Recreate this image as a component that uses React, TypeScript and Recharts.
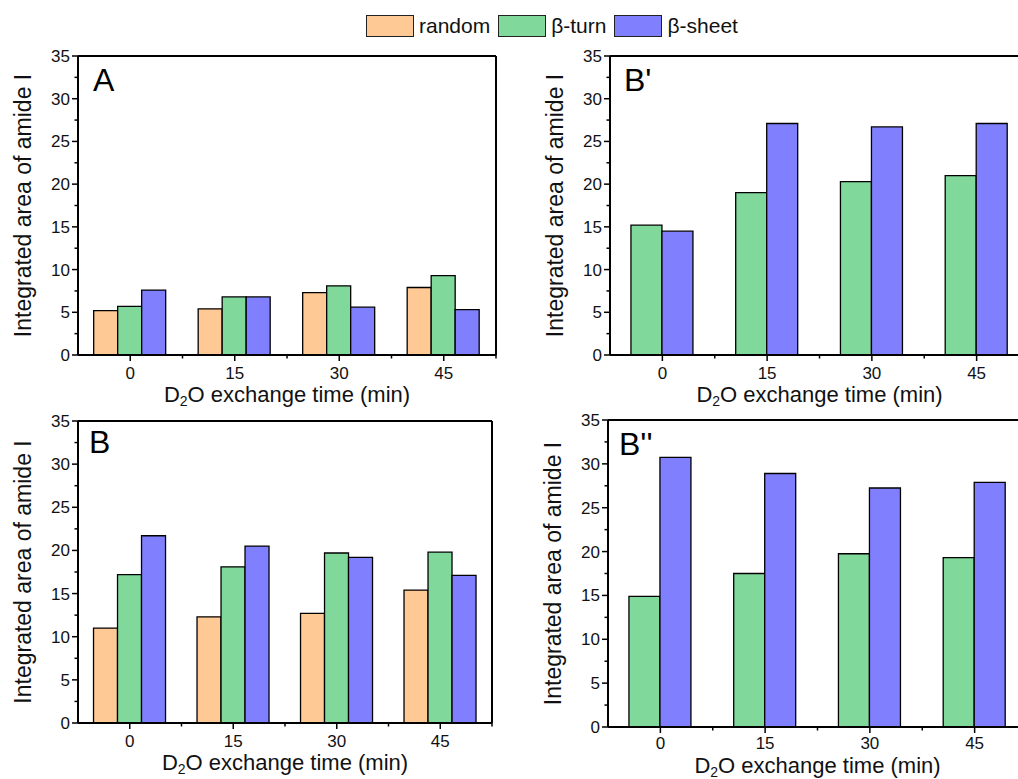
import React from "react";
import { BarChart, Bar, XAxis, YAxis } from "recharts";

const times = ["0", "15", "30", "45"];
const yTicks = [0, 2.5, 5, 7.5, 10, 12.5, 15, 17.5, 20, 22.5, 25, 27.5, 30, 32.5, 35];

// panel A
const aRandom = [5.2, 5.4, 7.3, 7.9];
const aTurn = [5.7, 6.8, 8.1, 9.3];
const aSheet = [7.6, 6.8, 5.6, 5.3];

// panel B
const bRandom = [11.0, 12.3, 12.7, 15.4];
const bTurn = [17.2, 18.1, 19.7, 19.8];
const bSheet = [21.7, 20.5, 19.2, 17.1];

// panel B'
const b1Turn = [15.2, 19.0, 20.3, 21.0];
const b1Sheet = [14.5, 27.1, 26.7, 27.1];

// panel B''
const b2Turn = [14.9, 17.5, 19.75, 19.3];
const b2Sheet = [30.75, 28.9, 27.25, 27.9];

const FONT = "'Liberation Sans', Arial, Helvetica, sans-serif";
const COLORS: Record<string, string> = {
  random: "#FFC995",
  turn: "#80D99B",
  sheet: "#8080FF",
};
const legendItems = [
  { key: "random", name: "random" },
  { key: "turn", name: "β-turn" },
  { key: "sheet", name: "β-sheet" },
];

type Row = { t: string; random?: number; turn?: number; sheet?: number };

function rows(random: number[] | null, turn: number[], sheet: number[]): Row[] {
  return times.map((t, i) => {
    const r: Row = { t, turn: turn[i], sheet: sheet[i] };
    if (random) r.random = random[i];
    return r;
  });
}

interface PanelProps {
  letter: string;
  letterDx: number;
  letterDy: number;
  left: number; // plot left edge on the page
  top: number; // plot top edge on the page
  w: number; // plot width
  h: number; // plot height
  data: Row[];
  keys: string[];
  gap: string;
  tickDy?: number;
  titleDy?: number;
}

// space around the plot inside each chart's svg
const ML = 78;
const MT = 20;
const MR = 12;
const XH = 60;

function Panel({
  letter,
  letterDx,
  letterDy,
  left,
  top,
  w,
  h,
  data,
  keys,
  gap,
  tickDy = 24,
  titleDy = 47,
}: PanelProps) {
  // local svg coordinates
  const L = ML;
  const T = MT;
  const B = MT + h;
  const band = w / times.length;

  const yTick = (p: any) => {
    const v = p.payload.value;
    const major = v % 5 === 0;
    return (
      <g>
        <line x1={L} x2={L - (major ? 6 : 3.5)} y1={p.y} y2={p.y} stroke="#000" strokeWidth={1.5} />
        {major && (
          <text x={L - 8} y={p.y + 6} textAnchor="end" fontSize={17} fontFamily={FONT} fill="#111">
            {v}
          </text>
        )}
      </g>
    );
  };

  const xTick = (p: any) => {
    const cx = p.x;
    return (
      <g>
        <line x1={cx} x2={cx} y1={B} y2={B + 6} stroke="#000" strokeWidth={1.5} />
        <line x1={cx + band / 2} x2={cx + band / 2} y1={B} y2={B + 3.5} stroke="#000" strokeWidth={1.5} />
        <text x={cx} y={B + tickDy} textAnchor="middle" fontSize={17} fontFamily={FONT} fill="#111">
          {p.payload.value}
        </text>
      </g>
    );
  };

  const xTitle = () => (
    <text x={L + w / 2} y={B + titleDy} textAnchor="middle" fontSize={22} fontFamily={FONT} fill="#111">
      D<tspan dy={4} fontSize={14}>2</tspan>
      <tspan dy={-4}>O exchange time (min)</tspan>
    </text>
  );

  const yTitle = () => {
    const tx = L - 47;
    const cy = T + h / 2;
    return (
      <g>
        <text
          x={tx}
          y={cy}
          transform={`rotate(-90, ${tx}, ${cy})`}
          textAnchor="middle"
          fontSize={23}
          fontFamily={FONT}
          fill="#111"
        >
          Integrated area of amide I
        </text>
        <text x={L + letterDx} y={T + letterDy} fontSize={32} fontFamily={FONT} fill="#000">
          {letter}
        </text>
      </g>
    );
  };

  return (
    <div style={{ position: "absolute", left: left - ML, top: top - MT }}>
      <BarChart
        width={ML + w + MR}
        height={MT + h + XH}
        data={data}
        margin={{ top: MT - 1, right: MR - 1, bottom: 0, left: 0 }}
        barCategoryGap={gap}
        barGap={0}
      >
        <XAxis
          dataKey="t"
          type="category"
          height={XH}
          interval={0}
          tickLine={false}
          tick={xTick}
          axisLine={{ stroke: "#000", strokeWidth: 2 }}
          label={{ content: xTitle }}
        />
        <XAxis
          xAxisId="top"
          orientation="top"
          dataKey="t"
          height={1}
          tick={false}
          tickLine={false}
          axisLine={{ stroke: "#000", strokeWidth: 2 }}
        />
        <YAxis
          type="number"
          domain={[0, 35]}
          ticks={yTicks}
          interval={0}
          width={ML}
          tickLine={false}
          tick={yTick}
          axisLine={{ stroke: "#000", strokeWidth: 2 }}
          label={{ content: yTitle }}
        />
        <YAxis
          yAxisId="right"
          orientation="right"
          type="number"
          domain={[0, 35]}
          width={1}
          tick={false}
          tickLine={false}
          axisLine={{ stroke: "#000", strokeWidth: 2 }}
        />
        {keys.map((k) => (
          <Bar
            key={k}
            dataKey={k}
            fill={COLORS[k]}
            stroke="#000"
            strokeWidth={1.3}
            isAnimationActive={false}
          />
        ))}
      </BarChart>
    </div>
  );
}

function Legend() {
  return (
    <div
      style={{
        position: "absolute",
        left: 366,
        top: 15,
        display: "flex",
        alignItems: "center",
        fontFamily: FONT,
        fontSize: 21,
        color: "#111",
        lineHeight: "22px",
      }}
    >
      {legendItems.map((it) => (
        <div key={it.key} style={{ display: "flex", alignItems: "center", marginRight: 8 }}>
          <div
            style={{
              width: 46,
              height: 20,
              background: COLORS[it.key],
              border: "1px solid #222",
              marginRight: 5,
            }}
          />
          <span>{it.name}</span>
        </div>
      ))}
    </div>
  );
}

export default function App() {
  return (
    <div
      style={{
        position: "fixed",
        left: 0,
        top: 0,
        width: 1018,
        height: 779,
        overflow: "hidden",
        background: "#fff",
      }}
    >
      <Legend />
      <Panel
        letter="A"
        letterDx={15}
        letterDy={35}
        left={78}
        top={56}
        w={418}
        h={299}
        data={rows(aRandom, aTurn, aSheet)}
        keys={["random", "turn", "sheet"]}
        gap="15%"
      />
      <Panel
        letter="B'"
        letterDx={14}
        letterDy={35}
        left={610}
        top={56}
        w={419}
        h={299}
        data={rows(null, b1Turn, b1Sheet)}
        keys={["turn", "sheet"]}
        gap="20%"
      />
      <Panel
        letter="B"
        letterDx={11}
        letterDy={32}
        left={78}
        top={421}
        w={414}
        h={302}
        data={rows(bRandom, bTurn, bSheet)}
        keys={["random", "turn", "sheet"]}
        gap="15%"
      />
      <Panel
        letter={"B''"}
        letterDx={11}
        letterDy={35}
        left={608}
        top={420}
        w={419}
        h={307}
        data={rows(null, b2Turn, b2Sheet)}
        keys={["turn", "sheet"]}
        gap="20%"
        tickDy={22}
        titleDy={45.5}
      />
    </div>
  );
}
